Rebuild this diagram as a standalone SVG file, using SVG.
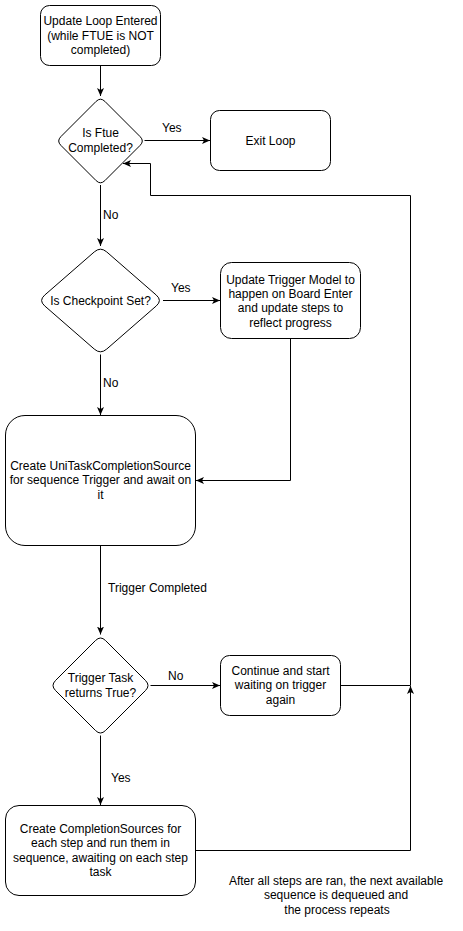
<svg xmlns="http://www.w3.org/2000/svg" width="463" height="931" viewBox="0 0 463 931">
<style>
.n{fill:#fff;stroke:#000;stroke-width:1}
.t{font-family:"Liberation Sans",Arial,sans-serif;font-size:12px;fill:#000;text-anchor:middle}
.l{font-family:"Liberation Sans",Arial,sans-serif;font-size:12px;fill:#000}
.c{fill:none;stroke:#000;stroke-width:1}
</style>
<defs>
<marker id="a" markerUnits="userSpaceOnUse" viewBox="0 0 8 8" markerWidth="8" markerHeight="8" refX="8" refY="4" orient="auto">
<path d="M0,0.5 L8,4 L0,7.5 L2,4 Z" fill="#000"/>
</marker>
</defs>
<rect width="463" height="931" fill="#fff"/>
<g id="connectors">
<path class="c" d="M100.5,65.5 L100.5,96" marker-end="url(#a)"/>
<path class="c" d="M144.5,140.5 L210,140.5" marker-end="url(#a)"/>
<path class="c" d="M100.5,185 L100.5,246" marker-end="url(#a)"/>
<path class="c" d="M163,300.5 L220,300.5" marker-end="url(#a)"/>
<path class="c" d="M290.5,338.5 L290.5,480.5 L196,480.5" marker-end="url(#a)"/>
<path class="c" d="M100.5,354.5 L100.5,415" marker-end="url(#a)"/>
<path class="c" d="M100.5,545.5 L100.5,634.5" marker-end="url(#a)"/>
<path class="c" d="M150.5,685.5 L220,685.5" marker-end="url(#a)"/>
<path class="c" d="M100.5,735.5 L100.5,805" marker-end="url(#a)"/>
<path class="c" d="M195.5,850.5 L410.5,850.5 L410.5,686" marker-end="url(#a)"/>
<path class="c" d="M340.5,685.5 L410.5,685.5 L410.5,195.5 L150.5,195.5 L150.5,163.5 L123,163.5" marker-end="url(#a)"/>
<text class="l" x="162" y="132">Yes</text>
<text class="l" x="103" y="219">No</text>
<text class="l" x="171" y="292">Yes</text>
<text class="l" x="103" y="387">No</text>
<text class="l" x="108" y="592">Trigger Completed</text>
<text class="l" x="168" y="680">No</text>
<text class="l" x="111" y="782">Yes</text>
</g>
<g id="start">
<rect class="n" x="40.5" y="5.5" width="120" height="60" rx="9"/>
<text class="t" x="100.5" y="25">Update Loop Entered</text>
<text class="t" x="100.5" y="39.5">(while FTUE is NOT</text>
<text class="t" x="100.5" y="54">completed)</text>
</g>
<g id="ftue">
<path class="n" d="M104.9,101.4 L140.1,136.6 Q144.5,141 140.1,145.4 L104.9,180.6 Q100.5,185 96.1,180.6 L60.9,145.4 Q56.5,141 60.9,136.6 L96.1,101.4 Q100.5,97 104.9,101.4 Z"/>
<text class="t" x="100.5" y="137">Is Ftue</text>
<text class="t" x="100.5" y="151.5">Completed?</text>
</g>
<g id="exit">
<rect class="n" x="210.5" y="110.5" width="120" height="60" rx="9"/>
<text class="t" x="270.5" y="144.5">Exit Loop</text>
</g>
<g id="checkpoint">
<path class="n" d="M106.7,251.9 L156.3,295.1 Q162.5,300.5 156.3,305.9 L106.7,349.1 Q100.5,354.5 94.3,349.1 L44.7,305.9 Q38.5,300.5 44.7,295.1 L94.3,251.9 Q100.5,246.5 106.7,251.9 Z"/>
<text class="t" x="100.5" y="304.5">Is Checkpoint Set?</text>
</g>
<g id="updateTrigger">
<rect class="n" x="220.5" y="262.5" width="140" height="76" rx="11"/>
<text class="t" x="290.5" y="283.5">Update Trigger Model to</text>
<text class="t" x="290.5" y="297.9">happen on Board Enter</text>
<text class="t" x="290.5" y="312.3">and update steps to</text>
<text class="t" x="290.5" y="326.7">reflect progress</text>
</g>
<g id="createSource">
<rect class="n" x="5.5" y="415.5" width="190" height="130" rx="19.5"/>
<text class="t" x="100.5" y="470">Create UniTaskCompletionSource</text>
<text class="t" x="100.5" y="484.4">for sequence Trigger and await on</text>
<text class="t" x="100.5" y="498.8">it</text>
</g>
<g id="triggerTask">
<path class="n" d="M105.5,640.5 L145.5,680.5 Q150.5,685.5 145.5,690.5 L105.5,730.5 Q100.5,735.5 95.5,730.5 L55.5,690.5 Q50.5,685.5 55.5,680.5 L95.5,640.5 Q100.5,635.5 105.5,640.5 Z"/>
<text class="t" x="100.5" y="682">Trigger Task</text>
<text class="t" x="100.5" y="696.5">returns True?</text>
</g>
<g id="continue">
<rect class="n" x="220.5" y="655.5" width="120" height="60" rx="9"/>
<text class="t" x="280.5" y="675">Continue and start</text>
<text class="t" x="280.5" y="689.4">waiting on trigger</text>
<text class="t" x="280.5" y="703.8">again</text>
</g>
<g id="runSteps">
<rect class="n" x="5.5" y="805.5" width="190" height="90" rx="13.5"/>
<text class="t" x="100.5" y="833">Create CompletionSources for</text>
<text class="t" x="100.5" y="847.4">each step and run them in</text>
<text class="t" x="100.5" y="861.8">sequence, awaiting on each step</text>
<text class="t" x="100.5" y="876.2">task</text>
</g>
<g id="note">
<text class="t" x="336" y="885">After all steps are ran, the next available</text>
<text class="t" x="336" y="899.4">sequence is dequeued and</text>
<text class="t" x="337" y="913.8">the process repeats</text>
</g>
</svg>
